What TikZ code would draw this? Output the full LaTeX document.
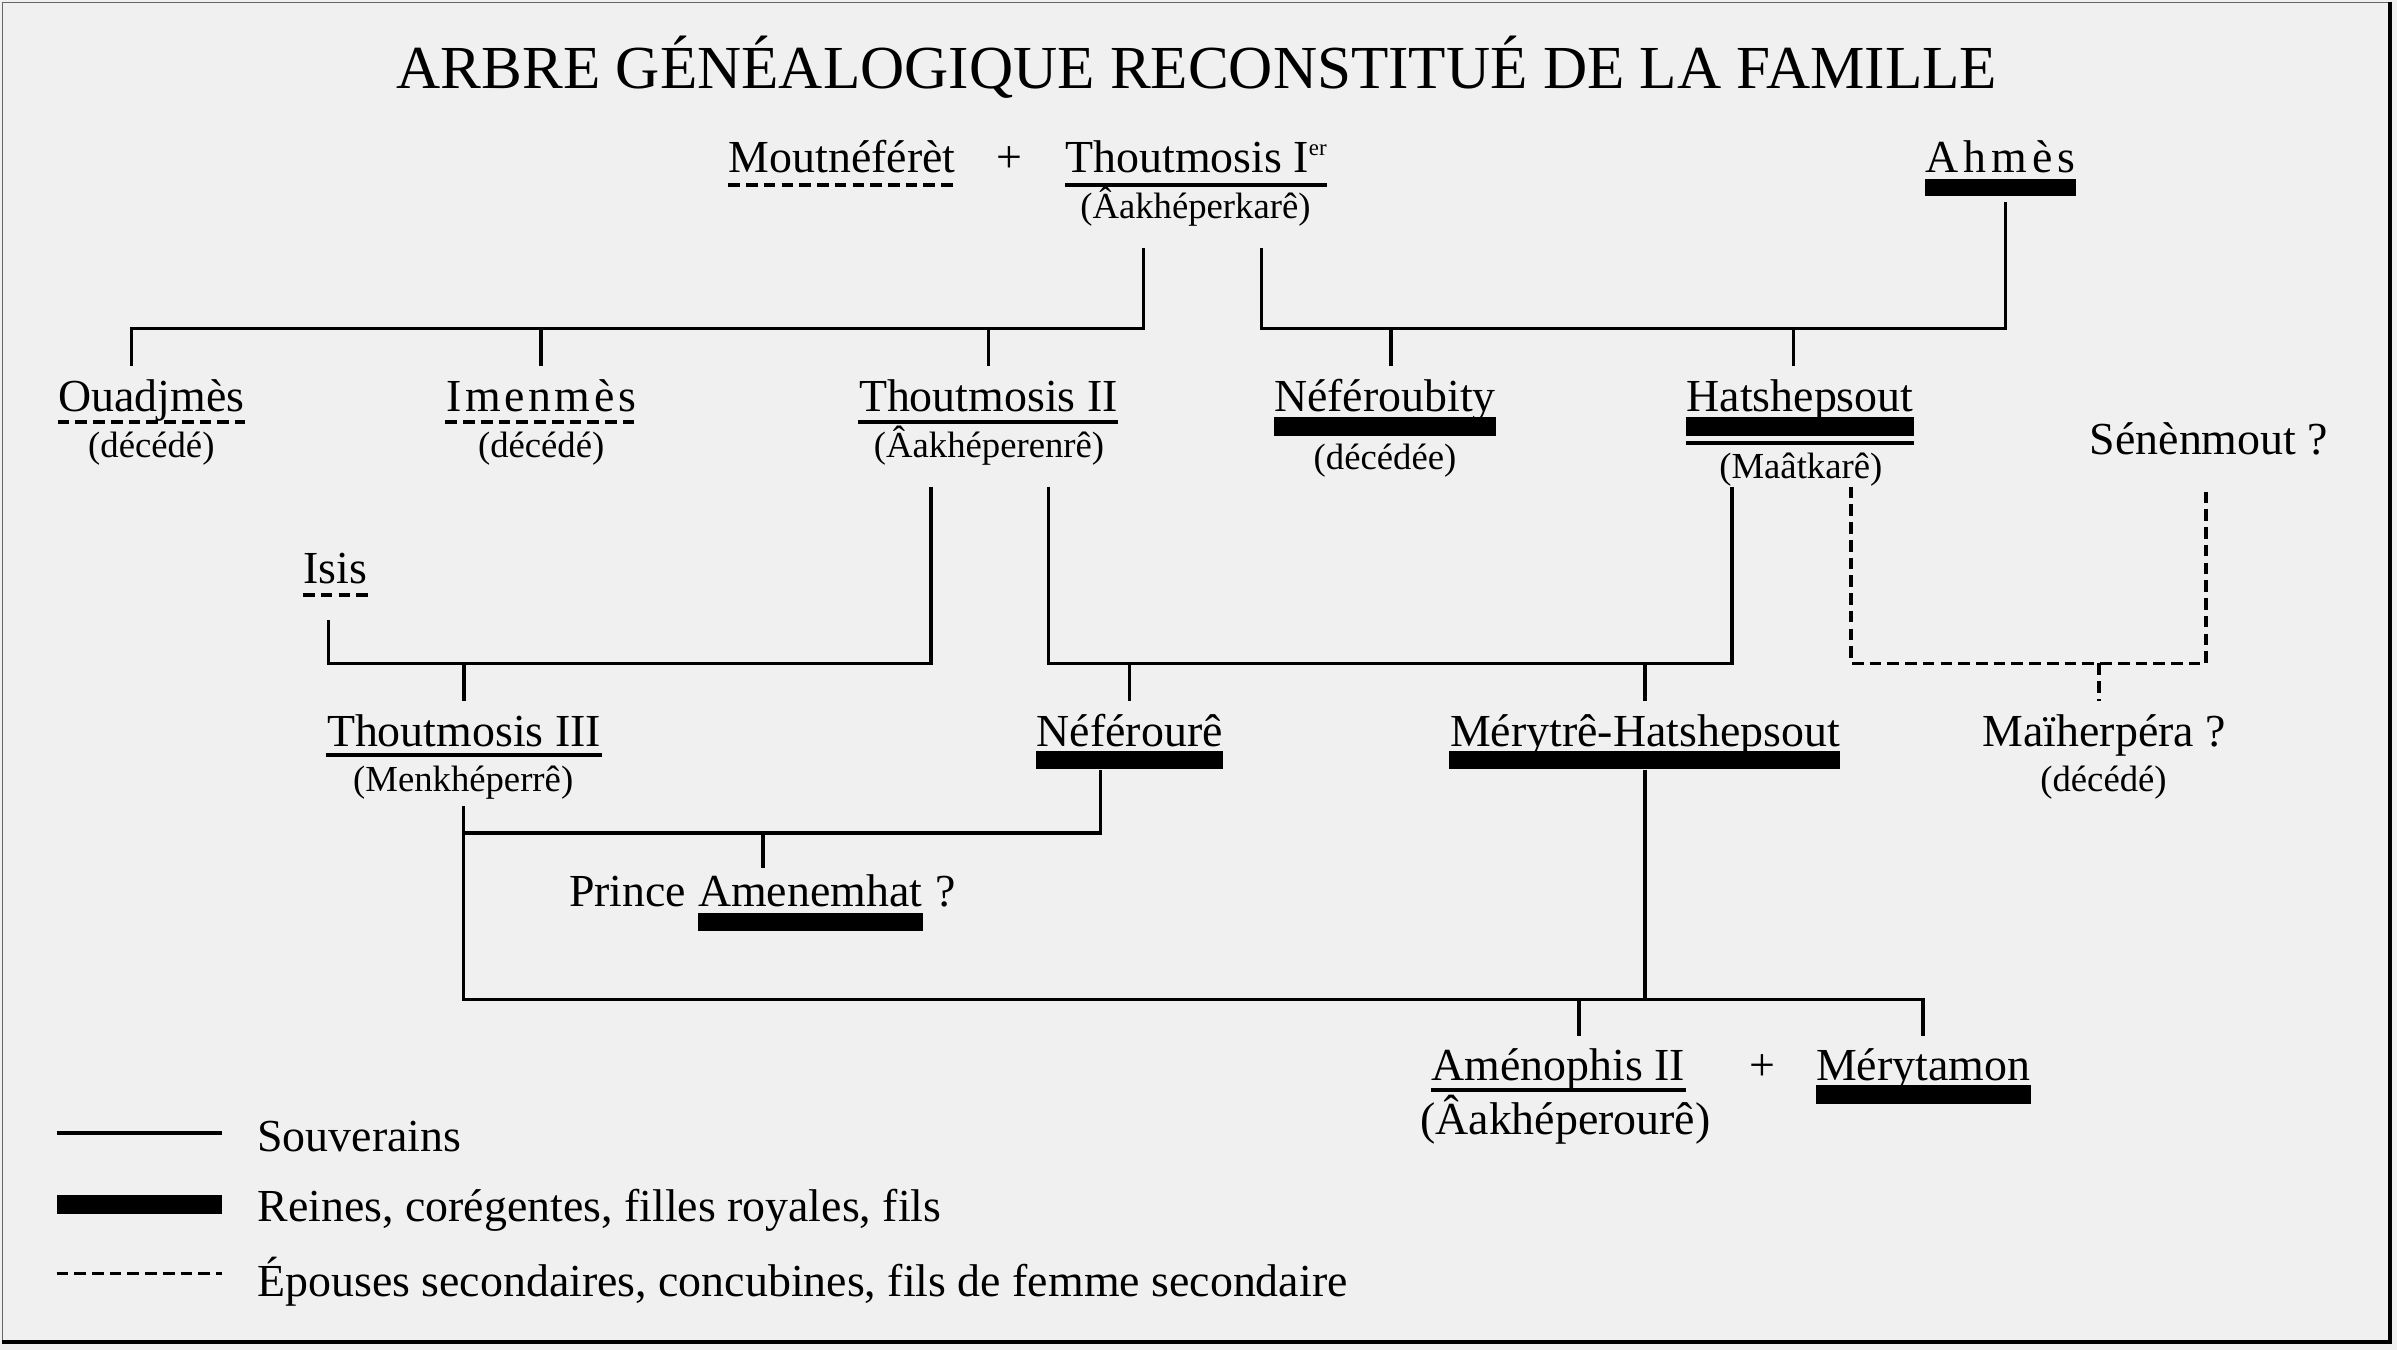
\documentclass[tikz,border=0pt]{standalone}
\usepackage{fontspec}
\setmainfont{Liberation Serif}
\newfontfamily\espace[LetterSpace=11]{Liberation Serif}
\newfontfamily\espacebis[LetterSpace=8]{Liberation Serif}
\definecolor{papier}{gray}{0.94}

\begin{document}
\begin{tikzpicture}[x=0.5pt,y=-0.5pt,
    nom/.style={font=\fontsize{15}{18}\selectfont,anchor=base,inner xsep=0pt,inner ysep=3.5pt,text height=11pt,text depth=3pt},
    regne/.style={font=\fontsize{12}{14}\selectfont,anchor=base,inner xsep=0pt,inner ysep=0pt,text height=8.5pt,text depth=2.5pt},
    lien/.style={line width=1.1pt},
    souverain/.style={line width=1.2pt},
    concubine/.style={line width=1.4pt,dash pattern=on 3.8pt off 2pt},
    reine/.style={fill=black}]
    \useasboundingbox (0,0) rectangle (1568,883);
    \fill[papier] (0,0) rectangle (1568,883);
    \draw[line width=0.5pt,black!60] (1.5,1.5) rectangle (1563.5,877.7);
    \draw[line width=1.4pt] (1563.5,1) -- (1563.5,877.7) -- (1,877.7);

    \node[font=\fontsize{20}{24}\selectfont,anchor=base] (titre) at (783,58) {ARBRE GÉNÉALOGIQUE RECONSTITUÉ DE LA FAMILLE};

    % premiere generation
    \node[nom] (moutneferet) at (551,113) {Moutnéférèt};
    \node[nom] (plusA) at (660,113) {+};
    \node[nom] (thoutI) at (782.5,113) {Thoutmosis I\raisebox{5.5pt}{\fontsize{7.5}{8}\selectfont er}};
    \node[regne] (thoutIr) at (782,143) {(Âakhéperkarê)};
    \node[nom,font=\fontsize{15}{18}\espace] (ahmes) at (1308.5,113) {Ahmès};
    \draw[concubine] ([yshift=-4pt]moutneferet.base west) -- ([yshift=-4pt]moutneferet.base east);
    \draw[souverain] ([yshift=-4pt]thoutI.base west) -- ([yshift=-4pt]thoutI.base east);
    \fill[reine] ([yshift=-2pt]ahmes.base west) rectangle ([yshift=-7.5pt]ahmes.base east);

    % deuxieme generation
    \node[nom] (ouadjmes) at (99,269) {Ouadjmès};
    \node[regne] (ouadjmesr) at (99,299) {(décédé)};
    \node[nom,font=\fontsize{15}{18}\espacebis] (imenmes) at (354,269) {Imenmès};
    \node[regne] (imenmesr) at (354,299) {(décédé)};
    \node[nom] (thoutII) at (646.5,269) {Thoutmosis II};
    \node[regne] (thoutIIr) at (647,299) {(Âakhéperenrê)};
    \node[nom] (neferoubity) at (906,269) {Néféroubity};
    \node[regne] (neferoubityr) at (906,307) {(décédée)};
    \node[nom] (hatshepsout) at (1177.5,269) {Hatshepsout};
    \node[regne] (hatshepsoutr) at (1178,313) {(Maâtkarê)};
    \node[nom] (senenmout) at (1445,297) {Sénènmout ?};
    \draw[concubine] ([yshift=-3.5pt]ouadjmes.base west) -- ([yshift=-3.5pt]ouadjmes.base east);
    \draw[concubine] ([yshift=-3.5pt]imenmes.base west) -- ([yshift=-3.5pt]imenmes.base east);
    \draw[souverain] ([yshift=-3.5pt]thoutII.base west) -- ([yshift=-3.5pt]thoutII.base east);
    \fill[reine] ([yshift=-2pt]neferoubity.base west) rectangle ([yshift=-8pt]neferoubity.base east);
    \fill[reine] ([yshift=-2pt]hatshepsout.base west) rectangle ([yshift=-8pt]hatshepsout.base east);
    \draw[souverain] ([yshift=-10.5pt]hatshepsout.base west) -- ([yshift=-10.5pt]hatshepsout.base east);

    % troisieme generation
    \node[nom] (isis) at (219.5,382) {Isis};
    \node[nom] (thoutIII) at (303.5,488) {Thoutmosis III};
    \node[regne] (thoutIIIr) at (303,518) {(Menkhéperrê)};
    \node[nom] (neferoure) at (739,488) {Néférourê};
    \node[nom] (merytre) at (1076,488) {Mérytrê-Hatshepsout};
    \node[nom] (maiherpera) at (1376.5,488) {Maïherpéra ?};
    \node[regne] (maiherperar) at (1376,518) {(décédé)};
    \draw[concubine] ([yshift=-3.5pt]isis.base west) -- ([yshift=-3.5pt]isis.base east);
    \draw[souverain] ([yshift=-3pt]thoutIII.base west) -- ([yshift=-3pt]thoutIII.base east);
    \fill[reine] ([yshift=-1.5pt]neferoure.base west) rectangle ([yshift=-7.5pt]neferoure.base east);
    \fill[reine] ([yshift=-1.5pt]merytre.base west) rectangle ([yshift=-7.5pt]merytre.base east);

    % quatrieme generation
    \node[nom] (amenemhat) at (530,593) {Amenemhat};
    \node[nom,anchor=base east] (prince) at ([xshift=-3.5pt]amenemhat.base west) {Prince};
    \node[nom,anchor=base west] (amenemhatq) at ([xshift=4pt]amenemhat.base east) {?};
    \fill[reine] ([yshift=-2pt]amenemhat.base west) rectangle ([yshift=-8pt]amenemhat.base east);
    \node[nom] (amenophis) at (1019.5,707) {Aménophis II};
    \node[nom,inner ysep=0pt] (amenophisr) at (1024,742) {(Âakhéperourê)};
    \node[nom] (plusB) at (1153,707) {+};
    \node[nom] (merytamon) at (1258,707) {Mérytamon};
    \draw[souverain] ([yshift=-3pt]amenophis.base west) -- ([yshift=-3pt]amenophis.base east);
    \fill[reine] ([yshift=-1.5pt]merytamon.base west) rectangle ([yshift=-7.5pt]merytamon.base east);

    % points de jonction
    \coordinate (famA) at (0,215);
    \coordinate (famB) at (0,434);
    \coordinate (famC) at (0,545);
    \coordinate (famD) at (0,654);
    \coordinate (tIg) at ([xshift=-17pt,yshift=-7pt]thoutIr.south);
    \coordinate (tId) at ([xshift=21.5pt,yshift=-7pt]thoutIr.south);
    \coordinate (ahm) at ([xshift=1.75pt,yshift=-3pt]ahmes.south);
    \coordinate (tIIg) at ([xshift=-19pt,yshift=-7pt]thoutIIr.south);
    \coordinate (tIId) at ([xshift=19.5pt,yshift=-7pt]thoutIIr.south);
    \coordinate (isi) at ([xshift=-2.25pt,yshift=-5pt]isis.south);
    \coordinate (hatg) at ([xshift=-22.5pt]hatshepsoutr.south);
    \coordinate (hatd) at ([xshift=16.5pt]hatshepsoutr.south);
    \coordinate (sen) at ([xshift=-1pt,yshift=-4pt]senenmout.south);
    \coordinate (tIII) at ([yshift=-2pt]thoutIIIr.south);
    \coordinate (nfr) at ([xshift=-9.5pt,yshift=-1pt]neferoure.south);
    \coordinate (mry) at ([yshift=-1pt]merytre.south);
    \coordinate (ouaD) at ([xshift=-6.5pt]ouadjmes.north);
    \coordinate (nfbD) at ([xshift=2pt]neferoubity.north);
    \coordinate (hatD) at ([xshift=-2.25pt]hatshepsout.north);
    \coordinate (maiD) at ([xshift=-1.75pt]maiherpera.north);
    \coordinate (amhD) at ([xshift=-15.5pt,yshift=-2pt]amenemhat.north);
    \coordinate (amnD) at ([xshift=6.75pt]amenophis.north);

    % liens
    \draw[lien] (tIg) |- (famA -| ouaD) -- (ouaD);
    \draw[lien] (famA -| imenmes.north) -- (imenmes.north);
    \draw[lien] (famA -| thoutII.north) -- (thoutII.north);
    \draw[lien] (tId) |- (famA -| ahm) -- (ahm);
    \draw[lien] (famA -| nfbD) -- (nfbD);
    \draw[lien] (famA -| hatD) -- (hatD);

    \draw[lien] (tIIg) |- (famB -| isi) -- (isi);
    \draw[lien] (famB -| thoutIII.north) -- (thoutIII.north);
    \draw[lien] (tIId) |- (famB -| hatg) -- (hatg);
    \draw[lien] (famB -| neferoure.north) -- (neferoure.north);
    \draw[lien] (famB -| merytre.north) -- (merytre.north);
    \draw[concubine,line width=1.2pt] (hatd) |- (famB -| sen) -- (sen);
    \draw[concubine,line width=1.2pt] (famB -| maiD) -- (maiD);

    \draw[lien] (tIII) |- (famC -| nfr) -- (nfr);
    \draw[lien] (famC -| amhD) -- (amhD);
    \draw[lien] (tIII) |- (famD -| merytamon.north) -- (merytamon.north);
    \draw[lien] (mry) -- (mry |- famD);
    \draw[lien] (famD -| amnD) -- (amnD);

    % legende
    \draw[souverain] (37,741) -- (145,741);
    \fill[reine] (37,782) rectangle (145,794);
    \draw[concubine,line width=1.2pt] (37,833) -- (145,833);
    \node[nom,anchor=base west] (souverains) at (168,753) {Souverains};
    \node[nom,anchor=base west] (reines) at (168,799) {Reines, corégentes, filles royales, fils};
    \node[nom,anchor=base west] (epouses) at (168,848) {Épouses secondaires, concubines, fils de femme secondaire};
\end{tikzpicture}
\end{document}
